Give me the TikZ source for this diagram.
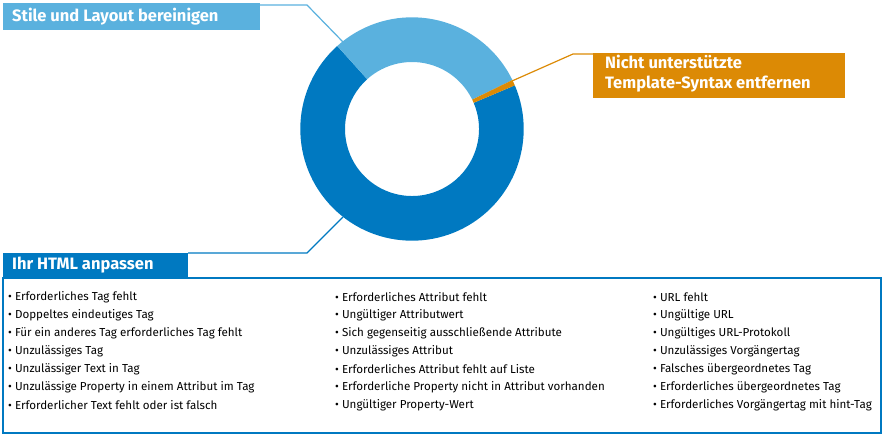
\documentclass[tikz,border=0pt]{standalone}
\usepackage{fontspec}
\setmainfont{Fira Sans}
\usetikzlibrary{positioning}
\definecolor{lightblue}{HTML}{5AB1DE}
\definecolor{darkblue}{HTML}{0079C1}
\definecolor{orangeish}{HTML}{DC8A05}
\newcommand{\ringpart}[3]{%
  \fill[#1] (#2:111.7) arc[start angle=#2, end angle=#3, radius=111.7]
    -- (#3:67) arc[start angle=#3, end angle=#2, radius=67] -- cycle;}
\tikzset{
  header/.style={anchor=west, inner sep=0pt, text=white, font=\bfseries\fontsize{16.5}{20}\selectfont, align=left},
  item/.style={anchor=west, inner sep=0pt, font=\fontsize{11.6}{13}\selectfont},
  leader/.style={line width=1.2pt}
}
\begin{document}
\begin{tikzpicture}[x=1pt, y=-1pt]
\useasboundingbox (0,0) rectangle (885,438);

% Ring
\begin{scope}[shift={(412,129)}, y=1pt]
  \ringpart{darkblue}{132}{383}
  \ringpart{lightblue}{26}{132}
  \ringpart{orangeish}{23}{26}
\end{scope}

% Boxes
\fill[lightblue] (3,3) rectangle (260,30);
\node[header] (stile) at (12,17) {Stile und Layout bereinigen};
\fill[orangeish] (593,53) rectangle (845,98);
\node[header] (syntax) at (605,74) {Nicht unterstützte\\Template-Syntax entfernen};
\fill[darkblue] (3,253) rectangle (188,278);
\node[header] (html) at (12,265) {Ihr HTML anpassen};
\draw[darkblue, line width=1.5pt] (3,278) rectangle (881,433);

% Leaders
\coordinate (a1) at (343,42);
\draw[leader, lightblue] (a1) -- (307,5) -- (260,5);
\coordinate (a2) at (512,81);
\draw[leader, orangeish] (a2) -- (573,54) -- (593,54);
\coordinate (a3) at (343,217);
\draw[leader, darkblue] (a3) -- (307,253) -- (188,253);
\draw[darkblue, line width=1pt] (188,277) -- (881,277);

% Lists
\foreach \t [count=\i] in {Erforderliches Tag fehlt, Doppeltes eindeutiges Tag,
  Für ein anderes Tag erforderliches Tag fehlt, Unzulässiges Tag,
  Unzulässiger Text in Tag, Unzulässige Property in einem Attribut im Tag,
  Erforderlicher Text fehlt oder ist falsch}
  \node[item] (l\i) at (8,279+18*\i) {• \t};
\foreach \t [count=\i] in {Erforderliches Attribut fehlt, Ungültiger Attributwert,
  Sich gegenseitig ausschließende Attribute, Unzulässiges Attribut,
  Erforderliches Attribut fehlt auf Liste, Erforderliche Property nicht in Attribut vorhanden,
  Ungültiger Property-Wert}
  \node[item] (m\i) at (335,279+18*\i) {• \t};
\foreach \t [count=\i] in {URL fehlt, Ungültige URL, Ungültiges URL-Protokoll,
  Unzulässiges Vorgängertag, Falsches übergeordnetes Tag,
  Erforderliches übergeordnetes Tag, Erforderliches Vorgängertag mit hint-Tag}
  \node[item] (r\i) at (653,279+18*\i) {• \t};
\end{tikzpicture}
\end{document}
